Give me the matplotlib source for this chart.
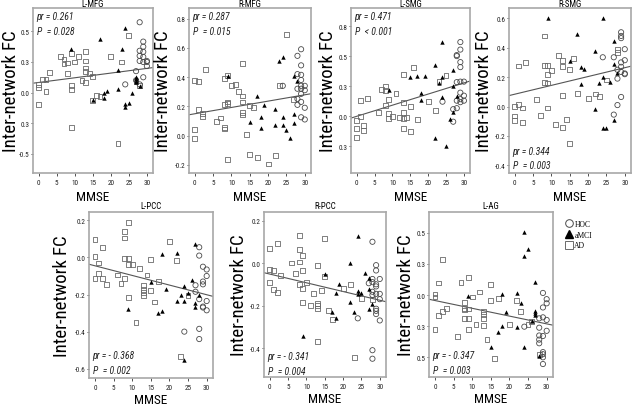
import matplotlib
matplotlib.use("Agg")
import matplotlib.pyplot as plt
from matplotlib.lines import Line2D
from matplotlib import font_manager

# pick a narrow sans face if one is installed (reference uses a narrow Arial-like face)
_ttf = font_manager.fontManager.ttflist
_names = {f.name for f in _ttf}
_family, _stretch, k = None, 'normal', 0.84
for cand in ['Liberation Sans Narrow', 'Arial Narrow', 'Roboto Condensed',
             'Open Sans Condensed', 'Noto Sans Condensed', 'DejaVu Sans Condensed']:
    if cand in _names:
        _family, k = cand, 1.0
        break
if _family is None:
    for f in _ttf:
        if f.name in ('DejaVu Sans', 'Noto Sans', 'Roboto', 'Open Sans') and \
                str(f.stretch) in ('condensed', 'semi-condensed', 'extra-condensed'):
            _family, _stretch, k = f.name, 'condensed', 1.0
            break
if _family is None:
    plt.rcParams['font.family'] = ['Liberation Sans', 'DejaVu Sans']
else:
    plt.rcParams['font.family'] = [_family, 'Liberation Sans', 'DejaVu Sans']
    plt.rcParams['font.stretch'] = _stretch

# ---------------- data ----------------
titles = ["L-MFG", "R-MFG", "L-SMG", "R-SMG", "L-PCC", "R-PCC", "L-AG"]

lmfg_ad_x = [0,0,0,1,2,2,3,6,7,7,8,8,9,9,9,9,10,11,12,13,13,13,13,13,14,15,15,16,17,20,23,25,22,27,28]
lmfg_ad_y = [0.08,0.05,-0.115,0.13,0.13,0.01,0.2,0.35,0.28,0.33,0.19,0.29,0.38,0.07,0.03,-0.34,0.3,0.35,0.12,0.4,0.31,0.24,0.21,0.1,0.19,0.16,-0.075,-0.03,-0.04,0.35,0.3,0.56,-0.5,0.11,0.07]
lmfg_mci_x = [9,17,18,19,18,15,22,22,23,24,24,24,25,26,27,27,27,27,28]
lmfg_mci_y = [0.43,0.53,0.0,0.02,-0.05,-0.07,0.22,0.03,0.43,0.63,-0.11,-0.14,-0.1,0.0,0.15,0.13,0.11,0.1,0.06]
lmfg_hoc_x = [24,27,28,28,28,28,29,29,29,29,29,30,30,29,28,27,30]
lmfg_hoc_y = [0.08,0.21,0.69,0.41,0.36,0.31,0.5,0.45,0.4,0.35,0.3,0.31,0.26,0.15,0.08,0.12,0.3]

rmfg_ad_x = [0,0,0,1,1,2,2,3,6,7,8,8,8,8,9,9,9,9,10,11,12,13,13,13,13,13,14,15,16,15,17,20,22,23,25,27]
rmfg_ad_y = [0.04,-0.02,0.375,0.37,0.18,0.15,0.13,0.45,0.095,0.12,0.39,0.21,0.055,0.045,0.41,0.23,0.22,-0.165,0.34,0.35,0.3,0.495,0.27,0.23,0.16,0.14,0.005,0.205,0.19,-0.13,-0.15,-0.195,-0.135,0.34,0.69,0.245]
rmfg_mci_x = [9,17,15,18,18,19,22,22,23,24,24,24,25,26,27,27,27,28]
rmfg_mci_y = [0.41,0.27,0.095,0.05,0.125,0.21,0.18,0.075,0.51,0.54,0.125,0.07,0.04,-0.015,0.15,0.085,0.41,0.375]
rmfg_hoc_x = [24,28,29,29,28,29,29,29,28,29,30,30,28,28,29,30,29,30,29]
rmfg_hoc_y = [0.34,0.545,0.59,0.48,0.42,0.415,0.38,0.34,0.32,0.32,0.34,0.31,0.25,0.21,0.23,0.19,0.125,0.11,0.285]

lsmg_ad_x = [0,0,0,1,1,2,2,3,6,7,8,8,8,9,9,9,10,11,12,13,13,13,13,13,14,15,15,16,17,20,22,23,25]
lsmg_ad_y = [-0.045,-0.12,-0.21,0.155,0.0,-0.095,-0.145,0.18,0.04,0.27,0.3,0.255,0.105,0.165,0.03,-0.02,-0.005,0.225,-0.015,0.42,0.14,0.04,-0.02,-0.12,-0.01,0.1,-0.155,0.485,-0.035,0.15,0.055,0.345,0.41]
lsmg_mci_x = [9,15,17,19,18,18,22,22,23,24,24,24,25,26,27,27,27,28]
lsmg_mci_y = [0.265,0.39,0.4,0.4,0.235,0.16,0.51,-0.22,0.335,0.39,0.745,0.19,-0.295,-0.025,0.465,0.3,0.04,0.2]
lsmg_hoc_x = [24,27,27,28,28,28,29,29,29,29,28,29,30,29,30,29,29,30,28]
lsmg_hoc_y = [0.145,-0.055,0.07,0.08,0.61,0.6,0.74,0.665,0.54,0.49,0.34,0.345,0.345,0.235,0.205,0.17,0.14,0.155,0.155]

rsmg_ad_x = [0,0,0,1,1,2,2,3,6,7,8,8,8,9,9,9,9,10,11,12,13,13,13,13,14,15,15,16,17,20,22,23,25,28,28]
rsmg_ad_y = [0.0,-0.065,-0.095,0.275,0.015,-0.01,-0.11,0.3,0.05,-0.06,0.48,0.28,0.165,0.28,0.22,0.16,-0.01,0.245,-0.12,0.345,0.315,0.27,0.075,-0.145,-0.09,0.25,-0.25,0.325,0.09,0.055,0.085,0.07,0.18,0.39,0.37]
rsmg_mci_x = [9,17,15,18,19,18,22,22,23,24,24,24,25,26,27,27,27,28]
rsmg_mci_y = [0.605,0.49,0.31,0.27,0.255,0.15,0.38,-0.015,0.16,0.6,0.2,-0.145,-0.145,0.17,0.445,0.29,-0.09,0.23]
rsmg_hoc_x = [24,27,27,28,28,28,29,29,29,29,29,29,30,30,30,30,29]
rsmg_hoc_y = [0.335,0.335,-0.055,0.01,0.19,0.25,0.505,0.48,0.465,0.3,0.27,0.235,0.39,0.315,0.22,0.225,0.065]

lpcc_ad_x = [0,0,0,1,1,2,2,3,6,7,8,8,8,8,9,9,9,9,10,11,12,14,13,13,13,13,15,15,16,17,20,22,23,25]
lpcc_ad_y = [0.095,0.005,-0.115,-0.03,-0.085,0.055,-0.115,-0.145,-0.095,-0.14,0.14,0.105,-0.005,-0.115,0.19,-0.005,-0.04,-0.215,-0.04,-0.35,-0.06,-0.095,-0.15,-0.175,-0.19,-0.205,-0.01,-0.18,-0.24,-0.13,0.085,-0.015,-0.535,-0.205]
lpcc_mci_x = [9,15,18,19,17,18,22,22,23,24,24,24,25,26,27,27,27,28]
lpcc_mci_y = [-0.28,-0.13,0.02,-0.17,-0.3,-0.29,0.025,-0.235,-0.2,-0.155,-0.235,-0.555,-0.19,-0.12,0.07,-0.245,-0.265,-0.2]
lpcc_hoc_x = [24,27,27,28,28,28,28,28,29,29,29,29,29,30,30,30,30]
lpcc_hoc_y = [-0.4,-0.15,-0.185,0.055,0.01,-0.225,-0.385,-0.44,-0.05,-0.13,-0.145,-0.265,-0.27,-0.065,-0.1,-0.235,-0.285]

rpcc_ad_x = [0,0,0,1,1,2,2,3,6,7,8,8,8,8,9,9,9,9,10,11,12,13,13,13,13,13,14,15,15,16,17,20,22,23,25,28]
rpcc_ad_y = [0.07,-0.03,-0.09,-0.035,-0.125,0.09,-0.14,-0.06,0.0,-0.05,0.13,0.065,0.005,-0.1,0.035,-0.035,-0.12,-0.185,-0.09,-0.2,-0.145,-0.01,-0.19,-0.2,-0.215,-0.37,-0.13,0.115,-0.065,-0.225,-0.265,-0.12,-0.1,-0.445,-0.165,-0.17]
rpcc_mci_x = [9,15,17,18,18,19,22,22,23,24,24,24,25,26,27,27,27,28]
rpcc_mci_y = [-0.345,-0.05,-0.23,-0.26,-0.14,-0.1,0.0,-0.185,-0.23,0.125,-0.13,-0.145,-0.14,-0.045,-0.07,-0.12,-0.215,-0.195]
rpcc_hoc_x = [24,27,28,28,28,28,28,28,28,29,29,29,29,29,29,29,29,30,30,30,30]
rpcc_hoc_y = [-0.26,-0.095,0.1,-0.075,-0.09,-0.135,-0.15,-0.41,-0.45,-0.01,-0.035,-0.1,-0.11,-0.145,-0.215,-0.225,-0.24,-0.075,-0.145,-0.17,-0.27]

lag_ad_x = [0,0,0,1,1,2,2,3,6,7,8,8,8,8,9,9,9,9,10,11,12,13,13,13,13,14,15,15,16,17,20,22,23,25,26,28]
lag_ad_y = [0.01,-0.02,-0.33,0.115,-0.195,0.34,-0.16,-0.13,-0.4,0.12,-0.07,-0.13,-0.145,-0.23,0.17,-0.135,-0.23,-0.33,-0.02,-0.285,0.03,-0.16,-0.185,-0.225,-0.29,-0.43,0.1,-0.05,-0.615,-0.03,-0.285,-0.05,-0.16,-0.285,-0.255,-0.57]
lag_mci_x = [9,15,18,19,18,17,22,22,23,24,25,24,24,26,27,27,27,27,28]
lag_mci_y = [-0.005,-0.5,0.01,-0.16,-0.3,-0.36,0.015,-0.305,-0.08,0.61,0.445,0.38,-0.5,-0.25,0.125,-0.15,-0.17,-0.19,-0.59]
lag_hoc_x = [24,28,28,28,28,28,29,29,29,29,29,29,29,29,30,30,30,30]
lag_hoc_y = [-0.305,-0.315,-0.39,-0.43,-0.465,-0.225,0.02,-0.12,-0.215,-0.395,-0.55,-0.57,-0.6,-0.665,-0.04,-0.08,-0.24,-0.345]

ad_x = [lmfg_ad_x, rmfg_ad_x, lsmg_ad_x, rsmg_ad_x, lpcc_ad_x, rpcc_ad_x, lag_ad_x]
ad_y = [lmfg_ad_y, rmfg_ad_y, lsmg_ad_y, rsmg_ad_y, lpcc_ad_y, rpcc_ad_y, lag_ad_y]
mci_x = [lmfg_mci_x, rmfg_mci_x, lsmg_mci_x, rsmg_mci_x, lpcc_mci_x, rpcc_mci_x, lag_mci_x]
mci_y = [lmfg_mci_y, rmfg_mci_y, lsmg_mci_y, rsmg_mci_y, lpcc_mci_y, rpcc_mci_y, lag_mci_y]
hoc_x = [lmfg_hoc_x, rmfg_hoc_x, lsmg_hoc_x, rsmg_hoc_x, lpcc_hoc_x, rpcc_hoc_x, lag_hoc_x]
hoc_y = [lmfg_hoc_y, rmfg_hoc_y, lsmg_hoc_y, rsmg_hoc_y, lpcc_hoc_y, rpcc_hoc_y, lag_hoc_y]

# fit line: intercept, slope
fit_intercept = [0.099, 0.149, -0.001, 0.084, -0.045, -0.052, -0.053]
fit_slope = [0.0046, 0.00432, 0.0111, 0.006, -0.0052, -0.0041, -0.0075]

pr_text = ["pr = 0.261", "pr = 0.287", "pr = 0.471", "pr = 0.344", "pr = - 0.368", "pr = - 0.341", "pr = - 0.347"]
p_text = ["P  = 0.028", "P  = 0.015", "P  < 0.001", "P  = 0.003", "P  = 0.002", "P  = 0.004", "P  = 0.003"]

ytick_pos = [[0.6, 0.3, 0.0, -0.3, -0.6],
             [0.8, 0.6, 0.4, 0.2, 0.0, -0.2],
             [0.9, 0.6, 0.3, 0.0, -0.3],
             [0.6, 0.4, 0.2, 0.0, -0.2, -0.4],
             [0.2, 0.0, -0.2, -0.4, -0.6],
             [0.2, 0.0, -0.2, -0.4],
             [0.6, 0.3, 0.0, -0.3, -0.6]]
ytick_lab = [['0.5', '0.3', '0.0', '0.3', '-0.5'],
             ['0.8', '0.6', '0.4', '0.2', '0.0', '-0.2'],
             ['0.8', '0.5', '0.3', '0.0', '0.3'],
             ['0.6', '0.4', '0.2', '0.0', '-0.2', '-0.4'],
             ['0.2', '0.0', '-0.2', '-0.4', '-0.6'],
             ['0.2', '0.0', '-0.2', '-0.4'],
             ['0.5', '0.3', '0.0', '0.3', '0.5']]
xtick_pos = [0, 5, 10, 15, 20, 25, 30]
group_labels = ["HOC", "aMCI", "AD"]

# ---------------- layout ----------------
W, H = 633, 406
ylims = [(-0.79, 0.83), (-0.256, 0.872), (-0.567, 1.08), (-0.452, 0.67),
         (-0.65, 0.245), (-0.536, 0.24), (-0.79, 0.80)]
boxes = [(33, 9, 153, 174), (189, 9, 311, 174), (351, 9, 470, 174), (509, 9, 631, 174),
         (89, 213, 213, 379), (264, 213, 386, 378), (429, 213, 553, 378)]
ylab_x = [-0.187, -0.217, -0.196, -0.207, -0.218, -0.208, -0.189]
stats_top = [True, True, True, False, False, False, False]
stats_bottom_y = [None, None, None, (0.133, 0.048), (0.139, 0.048), (0.127, 0.036), (0.133, 0.042)]

fig = plt.figure(figsize=(W / 100, H / 100), dpi=100)
frame_col = '#a8a8a8'
edge_col = '#4a4a4a'

for i in range(7):
    l, t, r, b = boxes[i]
    ax = fig.add_axes([l / W, 1 - b / H, (r - l) / W, (b - t) / H])
    ax.scatter(ad_x[i], ad_y[i], marker='s', s=12, facecolors='none',
               edgecolors='#6a6a6a', linewidths=0.6, zorder=3)
    ax.scatter(hoc_x[i], hoc_y[i], marker='o', s=14, facecolors='none',
               edgecolors=edge_col, linewidths=0.6, zorder=3)
    ax.scatter(mci_x[i], mci_y[i], marker='^', s=10, color='black',
               linewidths=0, zorder=4)
    ax.axline((0, fit_intercept[i]), slope=fit_slope[i], color='#555555', lw=0.8, zorder=2)
    ax.set_xlim(-1.6, 31.7)
    ax.set_ylim(*ylims[i])
    ax.set_xticks(xtick_pos)
    ax.set_yticks(ytick_pos[i])
    ax.set_yticklabels(ytick_lab[i])
    ax.tick_params(axis='both', labelsize=5.2 * k, length=1.8, width=0.6,
                   color='#333333', labelcolor='#222222')
    ax.tick_params(axis='y', pad=0.6)
    ax.tick_params(axis='x', pad=2.2)
    for sp in ax.spines.values():
        sp.set_color(frame_col)
        sp.set_linewidth(1.2)
    ax.set_title(titles[i], fontsize=6.4 * k, pad=0.6 if i < 4 else 3.2)
    ax.set_xlabel("MMSE", fontsize=9.5 * k, va='center')
    ax.xaxis.set_label_coords(0.5, -0.14 if i < 4 else -0.128)
    ax.set_ylabel("Inter-network FC", fontsize=13.5 * k, va='center', ha='center')
    ax.yaxis.set_label_coords(ylab_x[i], 0.5)
    if stats_top[i]:
        ya, yb = 0.95, 0.86
    else:
        ya, yb = stats_bottom_y[i]
    ax.text(0.03, ya, pr_text[i], transform=ax.transAxes, fontsize=7 * k,
            style='italic', va='center', ha='left', color='#222222')
    ax.text(0.03, yb, p_text[i], transform=ax.transAxes, fontsize=7 * k,
            style='italic', va='center', ha='left', color='#222222')

handles = [Line2D([], [], marker='o', ls='none', mfc='none', mec=edge_col, mew=0.7, ms=5.5),
           Line2D([], [], marker='^', ls='none', color='black', ms=5.5),
           Line2D([], [], marker='s', ls='none', mfc='none', mec='#6a6a6a', mew=0.7, ms=5.5)]
fig.legend(handles, group_labels, loc='upper left', bbox_to_anchor=(566 / W, 1 - 221 / H),
           frameon=False, handlelength=0.8, handletextpad=0.3, labelspacing=0.35,
           borderpad=0, borderaxespad=0,
           prop={'family': ['Liberation Serif', 'DejaVu Serif'], 'size': 5.5, 'stretch': 'normal'})

fig.savefig("out.png", dpi=100)
